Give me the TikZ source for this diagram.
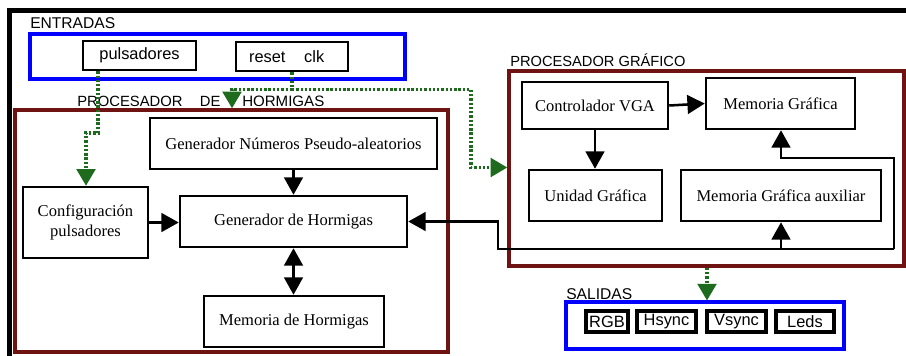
\documentclass[tikz,border=0pt]{standalone}
\usepackage{fontspec}
\setmainfont{Liberation Serif}
\setsansfont{Liberation Sans}
\usetikzlibrary{arrows.meta}
\definecolor{dred}{HTML}{6E1212}
\definecolor{dgreen}{HTML}{1E6B1E}
\begin{document}
\begin{tikzpicture}[x=0.75pt,y=-0.75pt,
 blk/.style={draw, line width=1.9pt, inner sep=0pt, align=center, font=\fontsize{12.4}{15}\selectfont},
 sbox/.style={draw, line width=2.6pt, inner sep=0pt, font=\sffamily\fontsize{12.3}{14}\selectfont, minimum height=15.75pt},
 ibox/.style={draw, line width=1.9pt, inner sep=0pt, font=\sffamily\fontsize{12.3}{14}\selectfont, minimum height=21.75pt},
 redbox/.style={draw=dred, line width=2.6pt, inner sep=0pt},
 bluebox/.style={draw=blue, line width=2.3pt, inner sep=0pt},
 lbl/.style={anchor=base west, inner sep=0pt, font=\sffamily\fontsize{11.4}{13}\selectfont},
 arr/.style={line width=1.9pt, -{Triangle[length=13pt,width=14pt]}},
 darr/.style={line width=1.9pt, {Triangle[length=13pt,width=14pt]}-{Triangle[length=13pt,width=14pt]}},
 garr/.style={draw=dgreen, line width=2.5pt, dash pattern=on 1.8pt off 1.4pt, -{Triangle[length=12.5pt,width=14pt]}}
]
\useasboundingbox (0,0) rectangle (906,355);
\clip (0,0) rectangle (906,355);
\fill[white] (0,0) rectangle (906,355);
% outer frame (partly cut)
\draw[line width=3.75pt] (9,370) -- (9,10.5) -- (920,10.5);

% group boxes
\node[bluebox, minimum width=281.25pt, minimum height=33.75pt] (ent) at (217.5,56.5) {};
\node[redbox, minimum width=324.75pt, minimum height=181.5pt] (ph) at (231.5,231) {};
\node[redbox, minimum width=296.25pt, minimum height=146.25pt] (pg) at (706.5,168.5) {};
\node[bluebox, minimum width=208.5pt, minimum height=35.25pt] (sal) at (705,325.5) {};

% labels
\node[lbl, font=\sffamily\fontsize{11.7}{13}\selectfont] (lent) at (30,28) {ENTRADAS};
\node[lbl, font=\sffamily\fontsize{11.1}{13}\selectfont] (lph1) at (77,106) {PROCESADOR\hspace{13pt}DE};
\node[lbl, font=\sffamily\fontsize{11.3}{13}\selectfont] (lph2) at (242,106) {HORMIGAS};
\node[lbl, font=\sffamily\fontsize{11}{13}\selectfont] (lpg) at (510,66) {PROCESADOR GRÁFICO};
\node[lbl, font=\sffamily\fontsize{11.7}{13}\selectfont] (lsal) at (566,299) {SALIDAS};

% inputs
\node[ibox, minimum width=84.75pt] (pul) at (139.5,55.5) {pulsadores};
\node[ibox, minimum width=84pt] (rst) at (292,56.5) {\hspace{-8pt}reset\hspace{14pt}clk};

% processor of ants
\node[blk, minimum width=215.25pt, minimum height=38.25pt] (gp) at (293.5,143.5) {Generador Números Pseudo-aleatorios};
\node[blk, minimum width=93.75pt, minimum height=53.25pt] (cfg) at (85.5,222.5) {Configuración\\pulsadores};
\node[blk, minimum width=170.25pt, minimum height=38.25pt] (gh) at (293.5,221.5) {Generador de Hormigas};
\node[blk, minimum width=135pt, minimum height=38.25pt] (mh) at (294,321.5) {Memoria de Hormigas};

% graphics processor
\node[blk, minimum width=109.5pt, minimum height=35.25pt] (cvga) at (595,105.5) {Controlador VGA};
\node[blk, minimum width=111.75pt, minimum height=38.25pt] (mg) at (780.5,103.5) {Memoria Gráfica};
\node[blk, minimum width=99.75pt, minimum height=38.25pt] (ug) at (595.5,195.5) {Unidad Gráfica};
\node[blk, minimum width=150pt, minimum height=38.25pt] (mga) at (781,195.5) {Memoria Gráfica auxiliar};

% outputs
\node[sbox, minimum width=31.5pt] (rgb) at (607,321.5) {RGB};
\node[sbox, minimum width=44.25pt] (hs) at (666.5,321.5) {Hsync};
\node[sbox, minimum width=44.25pt] (vs) at (736.5,321.5) {Vsync};
\node[sbox, minimum width=43.5pt] (leds) at (805,321.5) {Leds};

% turning points
\coordinate (a1) at (98,133);
\coordinate (a2) at (86,133);
\coordinate (b1) at (292,89.5);
\coordinate (b2) at (232,89.5);
\coordinate (b3) at (471,89.5);
\coordinate (b4) at (471,167.5);
\coordinate (s1) at (707,280);
\coordinate (c1) at (781,158);
\coordinate (c2) at (894,249);
\coordinate (c5) at (498,249);

% green dotted signals
\draw[garr] (pul.south -| a1) -- (a1) -- (a2) -- (cfg.north -| a2);
\draw[garr] (rst.south -| b1) -- (b1) -- (b2) -- (ph.north -| b2);
\draw[garr] (b1) -- (b3) -- (b4) -- (pg.west |- b4);
\draw[garr] (pg.south -| s1) -- (sal.north -| s1);

% black arrows
\draw[arr] (gp.south) -- (gh.north);
\draw[arr] (cfg.east) -- (cfg.east -| gh.west);
\draw[darr] (gh.south) -- (gh.south |- mh.north);
\draw[arr] (cvga.east) -- (mg.west);
\draw[arr] (cvga.south) -- (cvga.south |- ug.north);
\draw[arr, line join=miter] (c2) |- (c1) -- (mg.south -| c1);
\draw[arr, line join=miter] (c2) -- (c5) |- (gh.east);
\draw[arr] (mga.south |- c2) -- (mga.south);
\end{tikzpicture}
\end{document}
